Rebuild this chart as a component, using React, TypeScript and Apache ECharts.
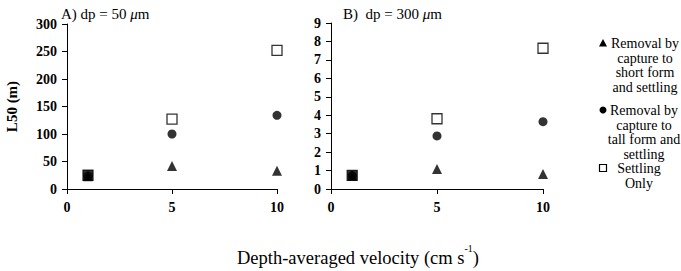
import React, { useEffect, useRef } from "react";
import * as echarts from "echarts";

const velocities = [1, 5, 10];
const shortA = [23, 42, 33];
const tallA = [24, 100, 134];
const settleA = [25, 127, 252];
const shortB = [0.72, 1.09, 0.82];
const tallB = [0.73, 2.88, 3.65];
const settleB = [0.74, 3.81, 7.63];
const xTicks = [0, 5, 10];

const SERIF = "Liberation Serif";

function pts(vals: number[]) {
  return velocities.map((v, i) => [v, vals[i]]);
}
function squarePts(vals: number[]) {
  // first point overlaps the other markers and prints as a filled square
  return velocities.map((v, i) =>
    i === 0 ? { value: [v, vals[i]], itemStyle: { color: "#000" } } : { value: [v, vals[i]] }
  );
}

export default function App() {
  const ref = useRef<HTMLDivElement>(null);
  useEffect(() => {
    if (!ref.current) return;
    const chart = echarts.init(ref.current, undefined, { renderer: "svg" });
    const axisCommon = {
      axisLine: { show: true, lineStyle: { color: "#000", width: 1 } },
      axisTick: { show: true, length: 5, inside: false, lineStyle: { color: "#000" } },
      splitLine: { show: false },
    };
    const labelStyle = {
      color: "#000",
      fontFamily: SERIF,
      fontWeight: "bold" as const,
      fontSize: 14,
    };
    const xAxis = (gi: number) => ({
      type: "value" as const,
      gridIndex: gi,
      min: 0,
      max: 10,
      interval: 5,
      ...axisCommon,
      axisLabel: { ...labelStyle, margin: 11, formatter: (v: number) => (xTicks.includes(v) ? String(v) : "") },
    });
    const mk = (gi: number, data: any, symbol: string, size: number, square = false) => ({
      type: "scatter" as const,
      xAxisIndex: gi,
      yAxisIndex: gi,
      data,
      symbol,
      symbolSize: size,
      itemStyle: square
        ? { color: "#fff", borderColor: "#000", borderWidth: 1.3 }
        : { color: "#000" },
    });
    const legendText = (x: number, y: number, text: string) => ({
      type: "text",
      x,
      y,
      style: {
        text,
        fontFamily: SERIF,
        fontSize: 14,
        lineHeight: 14.7,
        align: "center",
        fill: "#000",
      },
    });
    const italicRich = {
      i: { fontStyle: "italic", fontSize: 15, fontFamily: SERIF, fill: "#000" },
    };
    chart.setOption({
      animation: false,
      backgroundColor: "#fff",
      grid: [
        { left: 67, top: 24, width: 210, height: 165 },
        { left: 331, top: 23, width: 212, height: 166 },
      ],
      xAxis: [xAxis(0), xAxis(1)],
      yAxis: [
        {
          type: "value",
          gridIndex: 0,
          min: 0,
          max: 300,
          interval: 50,
          ...axisCommon,
          axisLabel: { ...labelStyle, margin: 10 },
          name: "L50 (m)",
          nameLocation: "middle",
          nameRotate: 90,
          nameGap: 48,
          nameTextStyle: { ...labelStyle, fontSize: 15 },
        },
        {
          type: "value",
          gridIndex: 1,
          min: 0,
          max: 9,
          interval: 1,
          ...axisCommon,
          axisLabel: { ...labelStyle, margin: 10 },
        },
      ],
      series: [
        mk(0, squarePts(settleA), "rect", 10, true),
        mk(0, pts(tallA), "circle", 9),
        mk(0, pts(shortA), "triangle", 10),
        mk(1, squarePts(settleB), "rect", 10, true),
        mk(1, pts(tallB), "circle", 9),
        mk(1, pts(shortB), "triangle", 10),
      ],
      graphic: [
        {
          type: "text",
          left: 61,
          top: 6,
          style: {
            text: "A) dp = 50 {i|μ}m",
            fontFamily: SERIF,
            fontSize: 15,
            fill: "#000",
            rich: italicRich,
          },
        },
        {
          type: "text",
          left: 343,
          top: 6,
          style: {
            text: "B)  dp = 300 {i|μ}m",
            fontFamily: SERIF,
            fontSize: 15,
            fill: "#000",
            rich: italicRich,
          },
        },
        {
          type: "text",
          x: 358,
          y: 255,
          style: {
            text: "{a|Depth-averaged velocity (cm s}{s|-1}{a|)}",
            align: "center",
            verticalAlign: "middle",
            fill: "#000",
            rich: {
              a: { fontSize: 18.5, fontFamily: SERIF, fill: "#000", lineHeight: 24, verticalAlign: "bottom" },
              s: { fontSize: 10, fontFamily: SERIF, fill: "#000", lineHeight: 24, verticalAlign: "top" },
            },
          },
        },
        // legend markers
        {
          type: "polygon",
          shape: { points: [[599, 46.5], [607, 46.5], [603, 39]] },
          style: { fill: "#000" },
        },
        { type: "circle", shape: { cx: 603, cy: 110, r: 3.5 }, style: { fill: "#000" } },
        {
          type: "rect",
          shape: { x: 599.5, y: 164.5, width: 7, height: 7 },
          style: { fill: "#fff", stroke: "#000", lineWidth: 1.2 },
        },
        legendText(645, 36, "Removal by\ncapture to\nshort form\nand settling"),
        legendText(644, 103, "Removal by\ncapture to\ntall form and\nsettling"),
        legendText(639, 161, "Settling\nOnly"),
      ],
    });
    return () => chart.dispose();
  }, []);
  return <div ref={ref} style={{ width: 681, height: 271, position: "absolute", left: 0, top: 0 }} />;
}
